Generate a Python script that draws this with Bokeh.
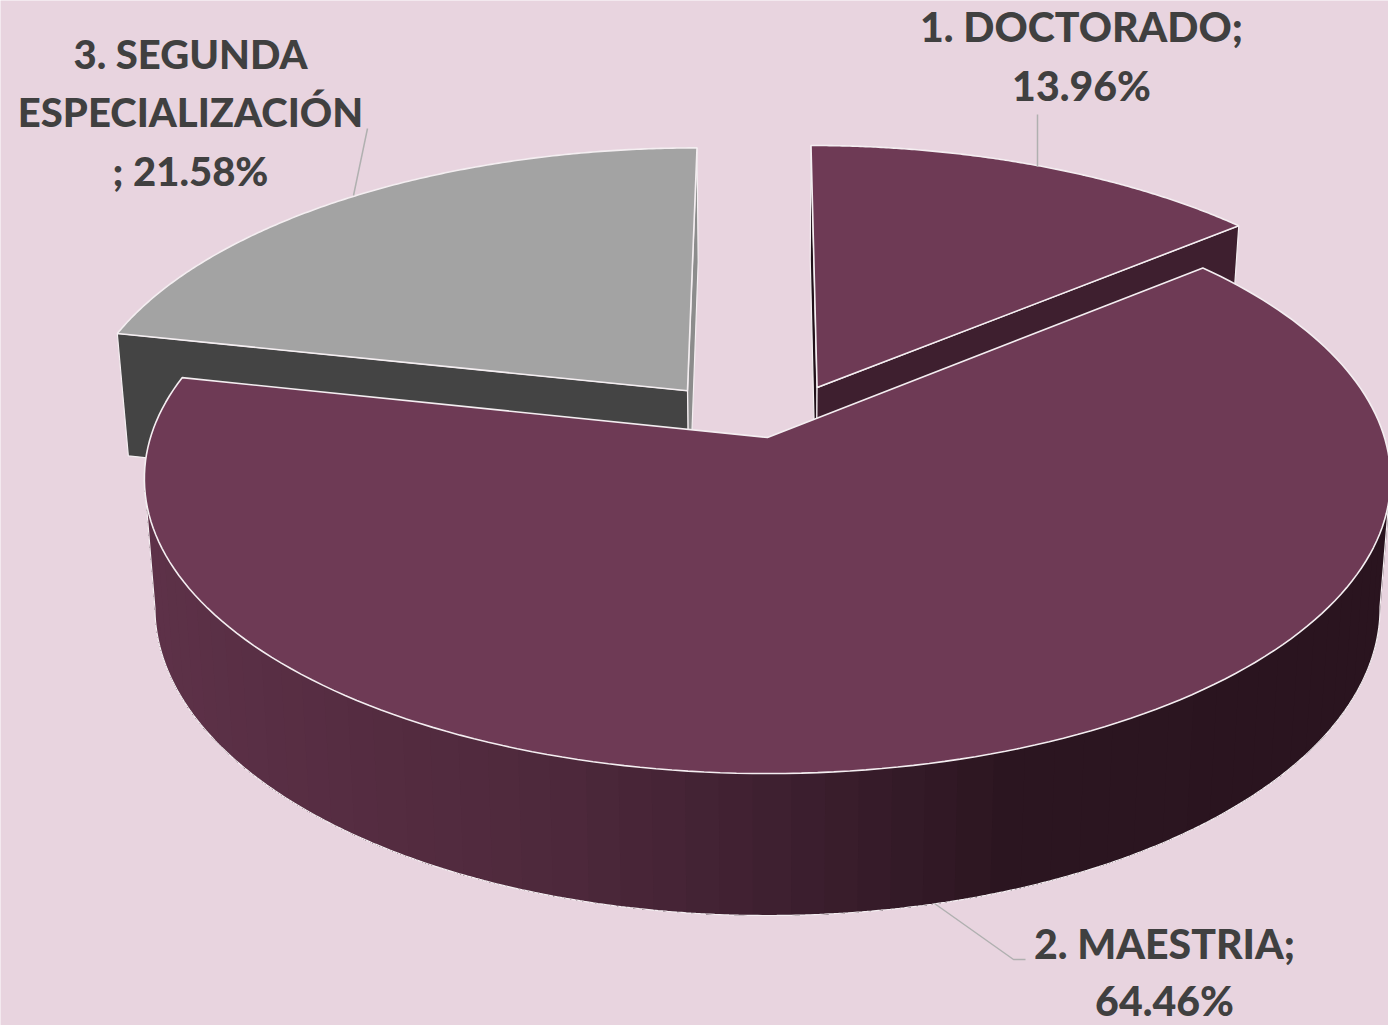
import numpy as np
from bokeh.plotting import figure
from bokeh.models import Range1d, ColumnDataSource
from bokeh.core.properties import value
from bokeh.embed import file_html
from bokeh.resources import INLINE

# ---- data ----
categories = ["1. DOCTORADO", "2. MAESTRIA", "3. SEGUNDA ESPECIALIZACIÓN"]
percent = [13.96, 64.46, 21.58]
label_lines = [
    ["1. DOCTORADO;", "13.96%"],
    ["2. MAESTRIA;", "64.46%"],
    ["3. SEGUNDA", "ESPECIALIZACIÓN", "; 21.58%"],
]

# ---- style ----
BG = "#e8d4df"
TOP = ["#6e3a55", "#6e3a55", "#a3a3a3"]
WALL = ["#3e1f2f", "#3e1f2f", "#444444"]
WALL_START = ["#1f0f18", "#1f0f18", "#8c8c8c"]
EDGE = "#f4eef1"
TXT = "#404040"
LEAD = "#b0b0b0"
FONT = "Lato Black, Lato"

CX, CY, RX, RY, K = 766.0, 437.0, 617.0, 289.0, 0.14
SHRINK, DEPTH = 0.983, 127.0
EXPLODE = [(0.084, 0.177), (0.0016, 0.0), (-0.131, 0.1657)]


def project(x, y, lower=False):
    d = 1 + K * y
    s = SHRINK if lower else 1.0
    sx = CX + s * RX * x / d
    sy = CY - s * RY * y / d + (DEPTH / d if lower else 0.0)
    return sx, sy


def rim(a0, a1, ex, ey, n=180, lower=False):
    t = np.radians(np.linspace(a0, a1, n))
    return project(ex + np.sin(t), ey + np.cos(t), lower)


p = figure(width=1388, height=1025, output_backend="svg", toolbar_location=None,
           x_range=Range1d(0, 1388), y_range=Range1d(1025, 0),
           x_axis_location=None, y_axis_location=None,
           background_fill_color=BG, border_fill_color=BG,
           min_border=0, outline_line_color=None)
p.grid.visible = False

fracs = np.array(percent) / sum(percent) * 360
ends = np.cumsum(fracs)
starts = ends - fracs


def quad(i, ang, color):
    ex, ey = EXPLODE[i]
    t = np.radians(ang)
    ax, ay = project(ex, ey)
    bx, by = project(ex + np.sin(t), ey + np.cos(t))
    cx, cy = project(ex + np.sin(t), ey + np.cos(t), True)
    dx, dy = project(ex, ey, True)
    p.patch([ax, bx, cx, dx], [ay, by, cy, dy], fill_color=color,
            line_color=EDGE, line_width=1.2)


def top(i):
    ex, ey = EXPLODE[i]
    rx, ry = rim(starts[i], ends[i], ex, ey)
    ax, ay = project(ex, ey)
    p.patch(np.r_[ax, rx], np.r_[ay, ry], fill_color=TOP[i],
            line_color=EDGE, line_width=1.6)


# grey slice, then doctorado slice (both behind the large slice)
quad(2, ends[2], WALL_START[2])
quad(2, starts[2], WALL[2])
top(2)
quad(0, starts[0], WALL_START[0])
quad(0, ends[0], WALL[0])
top(0)

# outer wall of the large slice, in overlapping strips shaded from left to right
ex, ey = EXPLODE[1]
ramp_x = [150, 350, 560, 780, 1000, 1380]
ramp_c = [(94, 50, 73), (86, 45, 66), (78, 41, 60), (62, 32, 48), (44, 22, 33), (42, 20, 31)]
ux, uy = rim(starts[1], ends[1], ex, ey, n=600)
lx, ly = rim(starts[1], ends[1], ex, ey, n=600, lower=True)
i_right, i_left = int(np.argmax(lx)), int(np.argmin(lx))
cuts = np.linspace(i_right, i_left, 60).astype(int)
for c0, c1 in zip(cuts[:-1], cuts[1:]):
    # each strip runs on to the far silhouette; the next one paints over it
    xs = np.r_[ux[c0:i_left + 1], lx[c0:i_left + 1][::-1]]
    ys = np.r_[uy[c0:i_left + 1], ly[c0:i_left + 1][::-1]]
    xm = float(lx[c0:c1 + 1].mean())
    c = [int(np.interp(xm, ramp_x, [q[j] for q in ramp_c])) for j in range(3)]
    p.patch(xs, ys, fill_color="#%02x%02x%02x" % tuple(c), line_color=None)
p.line(np.r_[ux[i_right], lx[i_right:i_left + 1], ux[i_left]],
       np.r_[uy[i_right], ly[i_right:i_left + 1], uy[i_left]],
       line_color=EDGE, line_width=1.2)
top(1)

# leader lines
for lx_, ly_ in [([1037, 1037], [114, 166]), ([367, 353], [128, 195]),
                 ([934, 1013, 1025], [903, 959, 959])]:
    p.line(lx_, ly_, line_color=LEAD, line_width=1.5)

# labels
label_pos = [(1081, [26, 85]), (1164, [943, 1000]), (190, [53, 111, 170])]
label_size = ["41px", "41px", "40px"]
for lines, (lx_, ly_), size in zip(label_lines, label_pos, label_size):
    src = ColumnDataSource(dict(x=[lx_] * len(lines), y=ly_, t=lines))
    p.text("x", "y", text="t", source=src, text_font=value(FONT),
           text_font_size=size, text_font_style="bold", text_color=TXT,
           text_align="center", text_baseline="middle")

open("out.html", "w").write(file_html(p, INLINE))
